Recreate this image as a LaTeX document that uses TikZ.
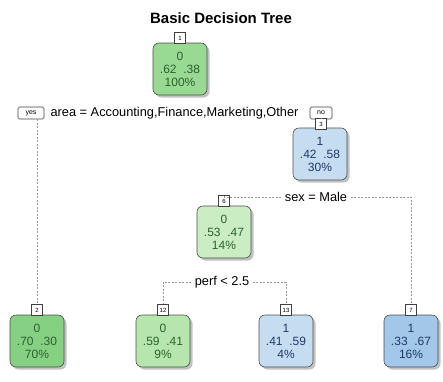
\documentclass[tikz,border=0pt]{standalone}
\usepackage{fontspec}
\setmainfont{Liberation Sans}
\usetikzlibrary{shadows}

\definecolor{grnA}{HTML}{86D084}
\definecolor{grnB}{HTML}{98D994}
\definecolor{grnC}{HTML}{B6E5AE}
\definecolor{grnD}{HTML}{CBEDC4}
\definecolor{bluA}{HTML}{A2C7E8}
\definecolor{bluB}{HTML}{C6DCF1}
\definecolor{grntxt}{HTML}{2B632B}
\definecolor{blutxt}{HTML}{1F3A66}

\begin{document}
\begin{tikzpicture}[x=1pt,y=-1pt,
  every node/.style={font=\fontsize{12}{13}\selectfont},
  treebox/.style={draw=black!70, semithick, rounded corners=6pt, minimum width=54pt,
                  minimum height=52pt, align=center, inner sep=0pt,
                  drop shadow={shadow xshift=2.5pt,shadow yshift=-2.5pt,
                               fill=black!40,opacity=0.6}},
  grnbox/.style={treebox, text=grntxt},
  blubox/.style={treebox, text=blutxt},
  tagbox/.style={draw=black!75, semithick, fill=white, font=\fontsize{6}{6}\selectfont,
                 minimum width=11pt, minimum height=11pt, inner sep=1pt},
  ynbox/.style={draw=black!75, semithick, fill=white, rounded corners=1.5pt,
                font=\fontsize{7}{7}\selectfont, minimum width=26pt,
                minimum height=12pt, inner sep=1pt},
  splitlbl/.style={font=\fontsize{12.8}{13}\selectfont},
  branch/.style={draw=black!40, dash pattern=on 2pt off 1.5pt, thin}]
  \useasboundingbox (0,0) rectangle (443,381);

  \node[font=\fontsize{15}{15}\selectfont\bfseries] (title) at (221,18) {Basic Decision Tree};

  % root and first split
  \node[grnbox, fill=grnB] (n1) at (180,69) {0\\.62\ \ .38\\100\%};
  \node[tagbox]            (t1) at (180,38) {1};
  \node[ynbox]             (yes) at (31,113) {yes};
  \node[splitlbl, anchor=west] (s1) at (47,113) {area = Accounting,Finance,Marketing,Other};
  \node[ynbox, minimum width=22pt] (no) at (321,113) {no};

  % right side
  \node[blubox, fill=bluB] (n3) at (320,154) {1\\.42\ \ .58\\30\%};
  \node[tagbox]            (t3) at (321,124) {3};
  \node[splitlbl]          (s3) at (316,197) {sex = Male};

  \node[grnbox, fill=grnD] (n6) at (224,232) {0\\.53\ \ .47\\14\%};
  \node[tagbox]            (t6) at (224,201) {6};
  \node[splitlbl]          (s6) at (222,282) {perf < 2.5};

  % leaves
  \node[grnbox, fill=grnA] (n2)  at (37,341)  {0\\.70\ \ .30\\70\%};
  \node[tagbox]            (t2)  at (37,310)  {2};
  \node[grnbox, fill=grnC] (n12) at (163,341) {0\\.59\ \ .41\\9\%};
  \node[tagbox]            (t12) at (163,310) {12};
  \node[blubox, fill=bluB] (n13) at (286,341) {1\\.41\ \ .59\\4\%};
  \node[tagbox]            (t13) at (286,310) {13};
  \node[blubox, fill=bluA] (n7)  at (411,341) {1\\.33\ \ .67\\16\%};
  \node[tagbox]            (t7)  at (411,310) {7};

  % branches
  \draw[branch] (t2.north |- yes.south) -- (t2.north);
  \draw[branch] (no.south) -- (t3.north);
  \draw[branch] (s3.west) -| (t6.north);
  \draw[branch] (s3.east) -| (t7.north);
  \draw[branch] (s6.west) -| (t12.north);
  \draw[branch] (s6.east) -| (t13.north);
\end{tikzpicture}
\end{document}
